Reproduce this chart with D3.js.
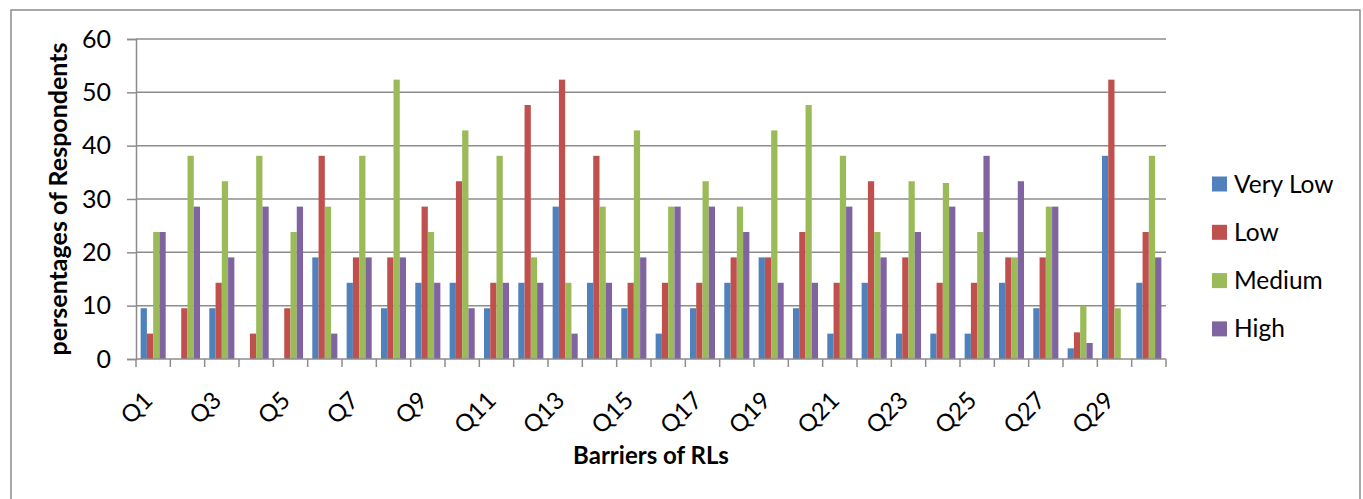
<!DOCTYPE html>
<html>
<head>
<meta charset="utf-8">
<script src="https://cdn.jsdelivr.net/npm/d3@7"></script>
<style>
  body { margin: 0; background: #fff; }
  text { font-family: Lato, 'Noto Sans', sans-serif; fill: #000; }
</style>
</head>
<body>
<svg id="chart" width="1363" height="499"></svg>
<script>
var categories = d3.range(1, 31).map(function (i) { return 'Q' + i })
var seriesNames = ['Very Low', 'Low', 'Medium', 'High']
var seriesColors = ['#4F81BD', '#C0504D', '#9BBB59', '#8064A2']

var veryLow = [9.52, 0, 9.52, 0, 0, 19.05, 14.29, 9.52, 14.29, 14.29,
               9.52, 14.29, 28.57, 14.29, 9.52, 4.76, 9.52, 14.29, 19.05, 9.52,
               4.76, 14.29, 4.76, 4.76, 4.76, 14.29, 9.52, 2, 38.1, 14.29]
var low = [4.76, 9.52, 14.29, 4.76, 9.52, 38.1, 19.05, 19.05, 28.57, 33.33,
           14.29, 47.62, 52.38, 38.1, 14.29, 14.29, 14.29, 19.05, 19.05, 23.81,
           14.29, 33.33, 19.05, 14.29, 14.29, 19.05, 19.05, 5, 52.38, 23.81]
var medium = [23.81, 38.1, 33.33, 38.1, 23.81, 28.57, 38.1, 52.38, 23.81, 42.86,
              38.1, 19.05, 14.29, 28.57, 42.86, 28.57, 33.33, 28.57, 42.86, 47.62,
              38.1, 23.81, 33.33, 33, 23.81, 19.05, 28.57, 10, 9.52, 38.1]
var high = [23.81, 28.57, 19.05, 28.57, 28.57, 4.76, 19.05, 19.05, 14.29, 9.52,
            14.29, 14.29, 4.76, 14.29, 19.05, 28.57, 28.57, 23.81, 14.29, 14.29,
            28.57, 19.05, 23.81, 28.57, 38.1, 33.33, 28.57, 3, 0, 19.05]
var yTicks = [0, 10, 20, 30, 40, 50, 60]

var seriesValues = [veryLow, low, medium, high]

var ctx = { left: 136, right: 1166, top: 39, bottom: 359 }

var svg = d3.select('#chart')

// outer frame
svg.append('rect')
   .attr('x', 11)
   .attr('y', 10)
   .attr('width', 1349)
   .attr('height', 520)
   .style('fill', 'none')
   .style('stroke', '#8c8c8c')
   .style('stroke-width', 1.5)

var x = d3.scaleBand()
          .domain(categories)
          .range([ctx.left, ctx.right])
          .paddingInner(0.27)
          .paddingOuter(0.135)

var xBand = d3.scaleBand()
              .domain(categories)
              .range([ctx.left, ctx.right])

var xInner = d3.scaleBand()
               .domain(seriesNames)
               .range([0, x.bandwidth()])

var y = d3.scaleLinear()
          .domain([0, 60])
          .range([ctx.bottom, ctx.top])

// gridlines
svg.append('g')
   .selectAll('line')
   .data(yTicks.filter(function (d) { return d > 0 }))
   .enter()
   .append('line')
   .attr('x1', ctx.left)
   .attr('x2', ctx.right)
   .attr('y1', function (d) { return y(d) })
   .attr('y2', function (d) { return y(d) })
   .style('stroke', '#8c8c8c')
   .style('stroke-width', 1.5)

// bars
seriesNames.forEach(function (name, s) {
  svg.append('g')
     .selectAll('rect')
     .data(seriesValues[s])
     .enter()
     .append('rect')
     .attr('x', function (d, i) { return x(categories[i]) + xInner(name) })
     .attr('y', function (d) { return y(d) })
     .attr('width', xInner.bandwidth())
     .attr('height', function (d) { return ctx.bottom - y(d) })
     .style('fill', seriesColors[s])
})

// y axis
var yAxis = svg.append('g')
               .attr('transform', 'translate(' + ctx.left + ',0)')
               .call(d3.axisLeft(y).tickValues(yTicks).tickSize(9).tickPadding(16))
yAxis.select('.domain').style('stroke', '#8c8c8c').style('stroke-width', 1.5)
yAxis.selectAll('.tick line').style('stroke', '#8c8c8c').style('stroke-width', 1.5)
yAxis.selectAll('.tick text')
     .style('font-family', 'Lato')
     .style('font-size', '25px')
     .attr('fill', '#000')

// x axis: ticks on band boundaries
var xAxisG = svg.append('g')
xAxisG.append('line')
      .attr('x1', ctx.left)
      .attr('x2', ctx.right)
      .attr('y1', ctx.bottom)
      .attr('y2', ctx.bottom)
      .style('stroke', '#8c8c8c')
      .style('stroke-width', 1.5)
xAxisG.selectAll('line.tk')
      .data(categories.concat(['end']))
      .enter()
      .append('line')
      .attr('class', 'tk')
      .attr('x1', function (d) { return d === 'end' ? ctx.right : xBand(d) })
      .attr('x2', function (d) { return d === 'end' ? ctx.right : xBand(d) })
      .attr('y1', ctx.bottom)
      .attr('y2', ctx.bottom + 8)
      .style('stroke', '#8c8c8c')
      .style('stroke-width', 1.5)

xAxisG.selectAll('text')
      .data(categories.filter(function (d, i) { return i % 2 === 0 }))
      .enter()
      .append('text')
      .attr('transform', function (d) {
        return 'translate(' + (xBand(d) + xBand.bandwidth() / 2 + 1) + ',' + (ctx.bottom + 43) + ') rotate(-45)'
      })
      .attr('text-anchor', 'end')
      .style('font-size', '24px')
      .text(function (d) { return d })

// axis titles
svg.append('text')
   .attr('transform', 'translate(67,' + ((ctx.top + ctx.bottom) / 2) + ') rotate(-90)')
   .attr('text-anchor', 'middle')
   .style('font-size', '25px')
   .style('font-weight', 'bold')
   .text('persentages of Respondents')

svg.append('text')
   .attr('x', (ctx.left + ctx.right) / 2)
   .attr('y', 464)
   .attr('text-anchor', 'middle')
   .style('font-size', '24px')
   .style('font-weight', 'bold')
   .text('Barriers of RLs')

// legend
var legend = svg.append('g').attr('id', 'legend')
seriesNames.forEach(function (name, i) {
  var top = 184 + i * 48.3
  legend.append('rect')
        .attr('x', 1212)
        .attr('y', top - 7.5)
        .attr('width', 15)
        .attr('height', 15)
        .style('fill', seriesColors[i])
  legend.append('text')
        .attr('x', 1234)
        .attr('y', top)
        .attr('dy', '0.35em')
        .style('font-size', '24.5px')
        .text(name)
})
</script>
</body>
</html>
